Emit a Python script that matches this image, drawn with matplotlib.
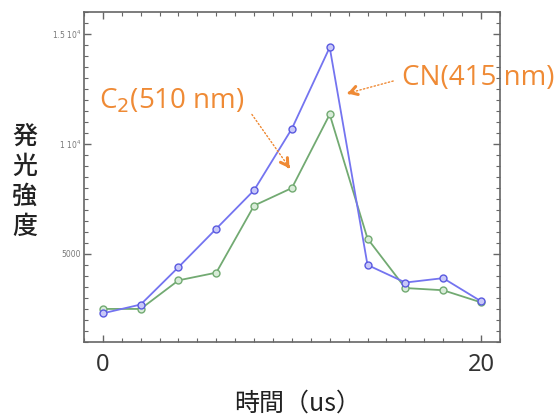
import matplotlib.pyplot as plt
from matplotlib.ticker import MultipleLocator, FixedLocator

plt.rcParams['font.family'] = ['Noto Sans CJK JP', 'DejaVu Sans']

# time (us)
time = [0, 2, 4, 6, 8, 10, 12, 14, 16, 18, 20]
# CN (415 nm) emission intensity
cn = [2300, 2700, 4400, 6150, 7900, 10700, 14400, 4500, 3700, 3900, 2850]
# C2 (510 nm) emission intensity
c2 = [2500, 2500, 3800, 4150, 7200, 8000, 11350, 5700, 3450, 3350, 2800]

y_ticks = [5000, 10000, 15000]
y_tick_labels = ["5000", "1 10$^4$", "1.5 10$^4$"]
x_ticks = [0, 20]
x_tick_labels = ["0", "20"]

blue = "#7474f0"
green = "#72aa72"
orange = "#ef8a35"

fig = plt.figure(figsize=(5.56, 4.19), dpi=100)
ax = fig.add_axes([0.151, 0.184, 0.748, 0.787])

ax.plot(time, c2, color=green, lw=1.3, marker="o", ms=5,
        mfc="#d8ecd8", mec=green, mew=1)
ax.plot(time, cn, color=blue, lw=1.3, marker="o", ms=5,
        mfc="#c8c8f8", mec="#5a5ae0", mew=1)

ax.set_xlim(-1, 21)
ax.set_ylim(1000, 16000)

for s in ax.spines.values():
    s.set_color("#666666")
    s.set_linewidth(1.2)

ax.xaxis.set_major_locator(FixedLocator(x_ticks))
ax.set_xticklabels(x_tick_labels, fontsize=17, color="#333333",
                   family=["Noto Sans", "DejaVu Sans"])
ax.xaxis.set_minor_locator(MultipleLocator(1))
ax.yaxis.set_major_locator(FixedLocator(y_ticks))
ax.set_yticklabels(y_tick_labels, fontsize=5.5, color="#777777",
                   family=["DejaVu Sans"])
ax.yaxis.set_minor_locator(MultipleLocator(500))
ax.tick_params(which="both", direction="in", top=True, right=True,
               color="#666666")
ax.tick_params(which="major", length=5, width=1)
ax.tick_params(which="minor", length=3, width=0.8)
ax.tick_params(axis="x", which="major", pad=8)
ax.tick_params(axis="y", which="major", pad=2)

# annotations
ax.text(-0.2, 11950, "C$_2$(510 nm)", fontsize=20, color=orange,
        va="center", ha="left", family=["Open Sans", "DejaVu Sans"])
ax.annotate("", xy=(9.85, 8950), xytext=(7.8, 11450),
            arrowprops=dict(arrowstyle="-", color=orange, lw=1, ls=":"))
ax.annotate("", xy=(9.87, 8900), xytext=(9.8, 8990),
            arrowprops=dict(arrowstyle="->,head_length=0.5,head_width=0.3",
                            color=orange, lw=2.2))

ax.text(15.85, 13000, "CN(415 nm)", fontsize=20, color=orange,
        va="center", ha="left", family=["Open Sans", "DejaVu Sans"],
        clip_on=False)
ax.annotate("", xy=(13.0, 12320), xytext=(15.5, 12900),
            arrowprops=dict(arrowstyle="-", color=orange, lw=1, ls=":"))
ax.annotate("", xy=(12.94, 12300), xytext=(13.05, 12330),
            arrowprops=dict(arrowstyle="->,head_length=0.5,head_width=0.3",
                            color=orange, lw=2.2))

fig.text(0.044, 0.566, "発\n光\n強\n度", fontsize=18, color="#222222",
         ha="center", va="center", linespacing=1.2, fontweight="medium")
fig.text(0.535, 0.036, "時間（us）", fontsize=18, color="#222222",
         ha="center", va="center")

fig.savefig("out.png", dpi=100)
